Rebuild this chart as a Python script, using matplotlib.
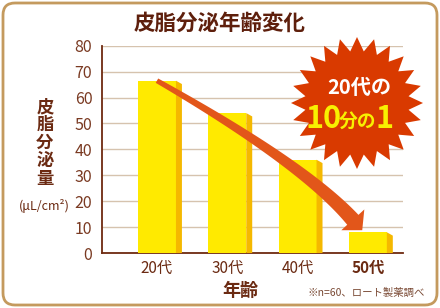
import numpy as np
import matplotlib
matplotlib.use('Agg')
import matplotlib.pyplot as plt
from matplotlib.patches import Polygon, FancyBboxPatch

plt.rcParams['font.family'] = ['Noto Sans CJK JP', 'DejaVu Sans']

# データ
ages = ['20代', '30代', '40代', '50代']
sebum = [66.5, 54, 36, 8]
yticks = [0, 10, 20, 30, 40, 50, 60, 70, 80]

brown = '#6b2a12'
tick_brown = '#7a3a22'
yellow = '#ffea00'
amber = '#f5b800'
orange = '#e2561a'
burst_red = '#d93a00'

fig = plt.figure(figsize=(4.4, 3.08), dpi=100)
fig.patch.set_facecolor('white')

ax = fig.add_axes([102 / 440, 1 - 253 / 308, 301 / 440, 207.3 / 308])
pos = np.arange(len(ages))
bw = 0.54
ax.bar(pos, sebum, width=bw, color=yellow, zorder=3)
# 側面 (立体)
for p, v in zip(pos, sebum):
    x0 = p + bw / 2
    x1 = x0 + 0.085
    side = Polygon([(x0, 0), (x0, v), (x1, v - 1.3), (x1, 0)], closed=True,
                   facecolor=amber, edgecolor='none', zorder=3)
    ax.add_patch(side)

ax.set_xlim(-0.782, 3.5)
ax.set_ylim(0, 80)
ax.set_yticks(yticks)
ax.set_yticklabels([str(t) for t in yticks], fontsize=11.5, color=tick_brown)
ax.set_xticks(pos)
ax.set_xticklabels(ages, fontsize=11, color=brown)
ax.get_xticklabels()[-1].set_fontweight('bold')
ax.tick_params(length=0)
ax.tick_params(axis='y', pad=7)
ax.tick_params(axis='x', pad=5)
ax.yaxis.grid(True, color='#d6c3ae', lw=1)
ax.set_axisbelow(True)
for s in ['top', 'right']:
    ax.spines[s].set_visible(False)
for s in ['left', 'bottom']:
    ax.spines[s].set_color('#6e2a10')
    ax.spines[s].set_linewidth(1.3)
ax.set_facecolor('none')

# 装飾用のピクセル座標の重ねaxes
ov = fig.add_axes([0, 0, 1, 1], zorder=5)
ov.set_xlim(0, 440)
ov.set_ylim(308, 0)
ov.axis('off')
ov.patch.set_alpha(0)

frame = FancyBboxPatch((3, 3), 434, 302, boxstyle='round,pad=0,rounding_size=12',
                       facecolor='none', edgecolor='#c49a5e', lw=2)
ov.add_patch(frame)

ov.text(220, 23, '皮脂分泌年齢変化', ha='center', va='center', fontsize=15.5,
        fontweight='bold', color='#5e1f0c')
ov.text(45, 143, '皮\n脂\n分\n泌\n量', ha='center', va='center', fontsize=12.5,
        fontweight='bold', color=brown, linespacing=1.0)
ov.text(44, 206, '(μL/cm²)', ha='center', va='center', fontsize=9, color=brown)
ov.text(240, 290, '年齢', ha='center', va='center', fontsize=13,
        fontweight='bold', color=brown)
ov.text(425, 293, '※n=60、ロート製薬調べ', ha='right', va='center', fontsize=7.5,
        color='#7a4a35')

# 矢印 (20代 → 50代)
to_ov = lambda pt: ov.transData.inverted().transform(ax.transData.transform(pt))
p0 = to_ov((pos[0], sebum[0]))
tip = to_ov((pos[3] - 0.08, sebum[3] + 0.8))
d_end = np.array([0.67, 0.74])
d_end = d_end / np.linalg.norm(d_end)
p2 = tip - d_end * 14
p1 = np.array([p0[0] + 0.75 * (p2[0] - p0[0]), p0[1] + 0.6 * (p2[1] - p0[1])])
t = np.linspace(0, 1, 60)[:, None]
curve = (1 - t) ** 2 * p0 + 2 * (1 - t) * t * p1 + t ** 2 * p2
deriv = 2 * (1 - t) * (p1 - p0) + 2 * t * (p2 - p1)
deriv = deriv / np.linalg.norm(deriv, axis=1, keepdims=True)
normal = np.column_stack([-deriv[:, 1], deriv[:, 0]])
half = (2.5 + 5 * t[:, 0])[:, None]
left = curve + normal * half
right = curve - normal * half
head_n = np.array([-d_end[1], d_end[0]])
head = [p2 + head_n * 15.5, tip, p2 - head_n * 15.5]
outline = np.vstack([left, [head[0]], [head[1]], [head[2]], right[::-1]])
ov.add_patch(Polygon(outline, closed=True, facecolor=orange, edgecolor='none'))

# 星形バッジ
cx, cy = 357, 103
n = 24
ang = np.linspace(0, 2 * np.pi, 2 * n, endpoint=False) - np.pi / 2
rad = np.where(np.arange(2 * n) % 2 == 0, 66, 52)
star = np.column_stack([cx + rad * np.cos(ang), cy + rad * np.sin(ang)])
ov.add_patch(Polygon(star, closed=True, facecolor=burst_red, edgecolor='none'))

ov.text(359, 88, '20代の', ha='center', va='center', fontsize=14.5,
        fontweight='bold', color='white')
ov.text(305, 128, '10', ha='left', va='baseline', fontsize=22,
        fontweight='bold', color='#f8f000')
ov.text(339, 127, '分の', ha='left', va='baseline', fontsize=13.5,
        fontweight='bold', color='#f8f000')
ov.text(376, 128, '1', ha='left', va='baseline', fontsize=22,
        fontweight='bold', color='#f8f000')

fig.savefig('out.png', dpi=100)
